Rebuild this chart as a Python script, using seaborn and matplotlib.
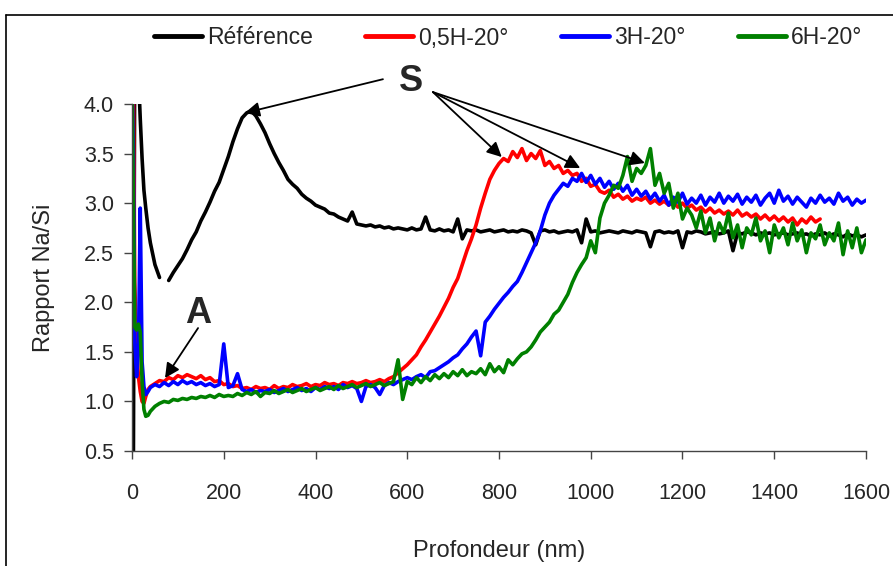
import numpy as np
import pandas as pd
import matplotlib
matplotlib.use("Agg")
import matplotlib.pyplot as plt
from matplotlib.lines import Line2D
import seaborn as sns

# depth grid (nm): fine steps near the surface, then every 10 nm
depth_head = [0, 3, 6, 10, 14, 18, 22, 26, 30, 35, 40]
depth_nm = depth_head + list(range(50, 1610, 10))

series_names = ["Référence", "0,5H-20°", "3H-20°", "6H-20°"]
series_colors = ["#000000", "#ff0000", "#0000ff", "#008000"]

nan = np.nan

ref_vals = [
    0.2, 0.3, 4.6, 4.6, 4.3, 3.85, 3.45, 3.13, 2.95, 2.75, 2.60,
    2.38, 2.25, nan, 2.22, 2.30, 2.37, 2.44, 2.53, 2.63, 2.71,
    2.82, 2.91, 3.01, 3.12, 3.21, 3.34, 3.47, 3.62, 3.75, 3.86,
    3.91, 3.93, 3.88, 3.80, 3.71, 3.60, 3.50, 3.41, 3.33, 3.24,
    3.19, 3.15, 3.09, 3.05, 3.02, 2.98, 2.96, 2.94, 2.90, 2.89,
    2.86, 2.84, 2.82, 2.91, 2.79, 2.78, 2.77, 2.78, 2.76, 2.77,
    2.75, 2.76, 2.74, 2.75, 2.74, 2.73, 2.75, 2.73, 2.74, 2.86,
    2.73, 2.72, 2.74, 2.72, 2.73, 2.71, 2.84, 2.64, 2.73, 2.72,
    2.73, 2.71, 2.72, 2.73, 2.71, 2.72, 2.73, 2.71, 2.72, 2.71,
    2.73, 2.72, 2.70, 2.58, 2.72, 2.73, 2.71, 2.72, 2.70, 2.71,
    2.72, 2.71, 2.73, 2.60, 2.84, 2.71, 2.72, 2.70, 2.71, 2.72,
    2.71, 2.70, 2.72, 2.71, 2.70, 2.72, 2.71, 2.70, 2.56, 2.71,
    2.72, 2.70, 2.71, 2.70, 2.72, 2.55, 2.71, 2.70, 2.72, 2.71,
    2.69, 2.70, 2.71, 2.69, 2.70, 2.72, 2.52, 2.70, 2.69, 2.71,
    2.70, 2.68, 2.70, 2.69, 2.70, 2.68, 2.69, 2.70, 2.68, 2.69,
    2.70, 2.68, 2.69, 2.67, 2.69, 2.68, 2.70, 2.67, 2.69, 2.68,
    2.66, 2.69, 2.67, 2.68, 2.66, 2.68,
]

red_vals = [
    4.5, 4.3, 2.2, 1.55, 1.25, 1.10, 1.00, 0.98, 1.05, 1.12, 1.15,
    1.18, 1.21, 1.20, 1.24, 1.22, 1.26, 1.24, 1.27, 1.25, 1.23,
    1.26, 1.22, 1.24, 1.20, 1.21, 1.17, 1.18, 1.15, 1.16, 1.13,
    1.14, 1.12, 1.15, 1.13, 1.14, 1.12, 1.16, 1.13, 1.15, 1.14,
    1.17, 1.15, 1.16, 1.18, 1.15, 1.17, 1.16, 1.19, 1.17, 1.18,
    1.16, 1.19, 1.18, 1.20, 1.18, 1.19, 1.21, 1.19, 1.20, 1.22,
    1.20, 1.23, 1.25, 1.29, 1.33, 1.37, 1.42, 1.47, 1.55, 1.62,
    1.70, 1.78, 1.86, 1.95, 2.04, 2.15, 2.24, 2.38, 2.52, 2.64,
    2.78, 2.95, 3.10, 3.24, 3.33, 3.40, 3.45, 3.42, 3.52, 3.46,
    3.55, 3.43, 3.50, 3.45, 3.53, 3.38, 3.42, 3.35, 3.38, 3.30,
    3.33, 3.28, 3.30, 3.22, 3.25, 3.17, 3.19, 3.12, 3.10, 3.13,
    3.06, 3.09, 3.04, 3.07, 3.02, 3.05, 3.03, 3.06, 3.00, 3.03,
    2.99, 3.02, 2.98, 3.01, 2.96, 3.00, 2.95, 2.98, 2.93, 2.96,
    2.91, 2.95, 2.90, 2.93, 2.89, 2.92, 2.88, 2.93, 2.87, 2.90,
    2.86, 2.89, 2.84, 2.88, 2.83, 2.87, 2.82, 2.86, 2.81, 2.85,
    2.78, 2.84, 2.80, 2.86, 2.81, 2.84, nan, nan, nan, nan,
    nan, nan, nan, nan, nan, nan,
]

blue_vals = [
    4.4, 3.5, 1.6, 1.25, 1.5, 2.95, 1.4, 1.15, 1.07, 1.10, 1.14,
    1.17, 1.15, 1.19, 1.16, 1.20, 1.17, 1.21, 1.18, 1.20, 1.17,
    1.19, 1.16, 1.18, 1.15, 1.17, 1.58, 1.14, 1.16, 1.28, 1.12,
    1.10, 1.12, 1.09, 1.11, 1.10, 1.12, 1.09, 1.11, 1.13, 1.10,
    1.12, 1.14, 1.11, 1.13, 1.10, 1.14, 1.12, 1.15, 1.13, 1.15,
    1.12, 1.17, 1.14, 1.16, 1.13, 1.00, 1.15, 1.17, 1.14, 1.07,
    1.16, 1.19, 1.17, 1.20, 1.22, 1.24, 1.22, 1.25, 1.27, 1.24,
    1.30, 1.31, 1.34, 1.37, 1.40, 1.44, 1.47, 1.53, 1.58, 1.65,
    1.71, 1.46, 1.80, 1.86, 1.93, 1.99, 2.05, 2.10, 2.16, 2.21,
    2.30, 2.40, 2.50, 2.60, 2.72, 2.88, 3.00, 3.08, 3.14, 3.20,
    3.17, 3.25, 3.22, 3.30, 3.21, 3.28, 3.19, 3.25, 3.16, 3.22,
    3.14, 3.20, 3.12, 3.18, 3.08, 3.14, 3.07, 3.12, 3.04, 3.10,
    3.02, 3.08, 2.98, 3.06, 3.01, 3.10, 2.99, 3.05, 3.00, 3.08,
    2.98, 3.06, 3.01, 3.10, 3.00, 3.07, 3.02, 3.09, 2.99, 3.06,
    3.01, 3.08, 2.98, 3.05, 3.10, 3.00, 3.13, 3.02, 3.07, 2.99,
    3.06, 3.01, 2.96, 3.05, 3.00, 3.08, 3.01, 3.05, 2.99, 3.10,
    3.02, 3.06, 2.98, 3.04, 3.00, 3.03,
]

green_vals = [
    4.3, 3.0, 1.75, 1.72, 1.78, 1.70, 1.20, 0.92, 0.85, 0.86, 0.90,
    0.95, 0.98, 1.00, 0.99, 1.02, 1.01, 1.03, 1.02, 1.04, 1.03,
    1.05, 1.04, 1.06, 1.04, 1.07, 1.05, 1.06, 1.05, 1.08, 1.06,
    1.09, 1.07, 1.10, 1.05, 1.09, 1.08, 1.11, 1.08, 1.10, 1.12,
    1.09, 1.11, 1.13, 1.10, 1.12, 1.14, 1.11, 1.13, 1.15, 1.12,
    1.16, 1.13, 1.15, 1.17, 1.14, 1.16, 1.18, 1.15, 1.17, 1.19,
    1.16, 1.18, 1.20, 1.42, 1.02, 1.20, 1.17, 1.24, 1.19, 1.25,
    1.21, 1.27, 1.23, 1.28, 1.24, 1.30, 1.26, 1.32, 1.26, 1.30,
    1.28, 1.33, 1.27, 1.38, 1.30, 1.35, 1.29, 1.42, 1.37, 1.43,
    1.48, 1.50, 1.55, 1.62, 1.70, 1.75, 1.80, 1.88, 1.92, 2.00,
    2.08, 2.20, 2.30, 2.38, 2.45, 2.62, 2.50, 2.85, 3.00, 3.08,
    3.18, 3.15, 3.28, 3.47, 3.22, 3.35, 3.30, 3.38, 3.55, 3.18,
    3.30, 3.10, 3.20, 2.95, 3.10, 2.84, 2.95, 2.88, 2.75, 2.92,
    2.70, 2.85, 2.62, 2.80, 2.70, 2.90, 2.65, 2.78, 2.55, 2.75,
    2.68, 2.85, 2.62, 2.72, 2.50, 2.78, 2.65, 2.75, 2.58, 2.80,
    2.62, 2.73, 2.50, 2.70, 2.64, 2.78, 2.58, 2.70, 2.62, 2.80,
    2.48, 2.72, 2.55, 2.75, 2.50, 2.63,
]

# --- long table for seaborn; segment keeps the gap in the reference curve ---
frames = []
for name, vals in zip(series_names, [ref_vals, red_vals, blue_vals, green_vals]):
    v = np.asarray(vals, dtype=float)
    seg = np.cumsum(np.isnan(v))
    frames.append(pd.DataFrame({"depth": depth_nm, "ratio": v, "serie": name,
                                "segment": seg}))
df = pd.concat(frames, ignore_index=True).dropna()

sns.set_theme(style="ticks")
plt.rcParams['font.family'] = ['Liberation Sans', 'DejaVu Sans']

fig = plt.figure(figsize=(8.93, 5.66), dpi=100)
ax = fig.add_axes([132 / 893, 1 - 451 / 566, (866 - 132) / 893, (451 - 104) / 566])

sns.lineplot(data=df, x="depth", y="ratio", hue="serie", units="segment",
             estimator=None, sort=False, hue_order=series_names,
             palette=series_colors, linewidth=2.6, ax=ax, legend=True)

ax.set_xlim(0, 1600)
ax.set_ylim(0.5, 4.0)
ax.set_xticks(range(0, 1601, 200))
ax.set_yticks(np.arange(0.5, 4.01, 0.5))
ax.set_yticklabels([f"{t:.1f}" for t in np.arange(0.5, 4.01, 0.5)])
ax.tick_params(axis='x', labelsize=15.5, length=6, width=1, pad=17, color='#444444')
ax.tick_params(axis='y', labelsize=15.5, length=6, width=1, pad=7, color='#444444')
sns.despine(ax=ax)
for side in ['left', 'bottom']:
    ax.spines[side].set_color('#444444')
    ax.spines[side].set_linewidth(1.0)

ax.set_xlabel("Profondeur (nm)", fontsize=17, labelpad=26)
ax.set_ylabel("Rapport Na/Si", fontsize=17, labelpad=21)

# legend across the top
handles, labels = ax.get_legend_handles_labels()
ax.get_legend().remove()
for h in handles:
    h.set_linewidth(3.5)
fig.legend(handles, labels, loc='center', bbox_to_anchor=(508 / 893, 1 - 38 / 566),
           ncol=4, frameon=False, fontsize=16.5, handlelength=2.1,
           handletextpad=0.2, columnspacing=2.3)

# annotations S and A
arrow_kw = dict(arrowstyle='-|>', color='black', lw=1.3, mutation_scale=22,
                shrinkA=0, shrinkB=0)
ax.text(608, 4.222, "S", fontsize=26, fontweight='bold', ha='center', va='center',
        clip_on=False)
ax.annotate("", xy=(246, 3.91), xytext=(547, 4.25), arrowprops=arrow_kw,
            annotation_clip=False)
for tip in [(806, 3.465), (977, 3.354), (1118, 3.405)]:
    ax.annotate("", xy=tip, xytext=(656, 4.12), arrowprops=arrow_kw,
                annotation_clip=False)
ax.text(144, 1.882, "A", fontsize=26, fontweight='bold', ha='center', va='center')
ax.annotate("", xy=(72, 1.236), xytext=(144, 1.74), arrowprops=arrow_kw)

# outer frame of the chart area
fig.add_artist(Line2D([5.5 / 893, 5.5 / 893], [0, 1 - 14.5 / 566], color='black', lw=1.2))
fig.add_artist(Line2D([5.5 / 893, 1], [1 - 14.5 / 566, 1 - 14.5 / 566], color='black', lw=1.2))

plt.savefig("out.png", dpi=100)
plt.close()
